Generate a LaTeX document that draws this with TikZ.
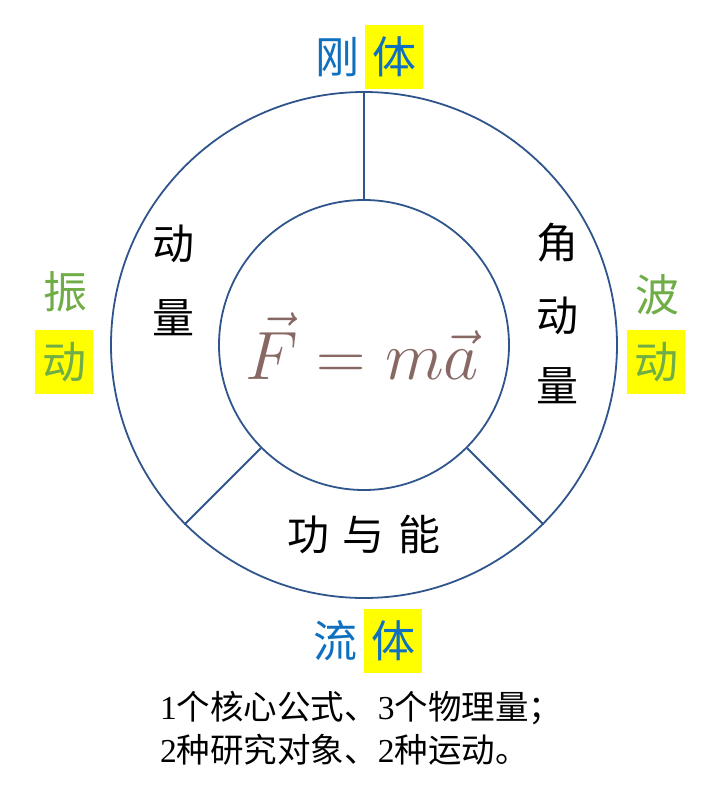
\documentclass[tikz,border=0pt]{standalone}
\usepackage{fontspec}
\newfontfamily\cjk{Noto Sans CJK SC}
\newfontfamily\lserif{Liberation Serif}
\definecolor{ringblue}{RGB}{47,85,140}
\definecolor{titleblue}{RGB}{16,112,192}
\definecolor{motiongreen}{RGB}{112,173,71}
\definecolor{hlyellow}{RGB}{255,255,0}
\definecolor{formula}{RGB}{135,104,100}
\tikzset{
  ring/.style={circle,draw=ringblue,line width=1.8pt,inner sep=0pt},
  divider/.style={draw=ringblue,line width=1.8pt},
  bigchar/.style={font=\cjk\fontsize{44}{44}\selectfont,inner sep=0pt},
  hlbox/.style={bigchar,fill=hlyellow,minimum width=58pt,minimum height=64pt},
  inchar/.style={font=\cjk\fontsize{42}{42}\selectfont,inner sep=0pt,text=black},
  note/.style={font=\cjk\fontsize{33.5}{42}\selectfont,inner sep=0pt,anchor=west,text=black}
}
\begin{document}
\begin{tikzpicture}[x=1pt,y=-1pt]
\useasboundingbox (0,0) rectangle (720,788);
% rings
\node[ring,minimum size=506pt] (outer) at (364,345) {};
\node[ring,minimum size=290pt] (inner) at (364,345) {};
\draw[divider] (inner.90) -- (outer.90);
\draw[divider] (inner.225) -- (outer.225);
\draw[divider] (inner.315) -- (outer.315);
% formula
\node[text=formula,inner sep=0pt,scale=2.75] (f) at (362,346) {\Huge$\vec{F}=m\vec{a}$};
% inner labels
\node[inchar] (dong1) at (173,244) {动};
\node[inchar] (liang1) at (173,318) {量};
\node[inchar] (jiao) at (557,243) {角};
\node[inchar] (dong2) at (557,316) {动};
\node[inchar] (liang2) at (557,386) {量};
\node[inchar] (gong) at (364,535) {功\hspace{14pt}与\hspace{14pt}能};
% top
\node[bigchar,text=titleblue] (gang) at (337,57) {刚};
\node[hlbox,text=titleblue] (ti1) at (394,57) {体};
% bottom
\node[bigchar,text=titleblue] (liu) at (335,641) {流};
\node[hlbox,text=titleblue] (ti2) at (393,641) {体};
% left
\node[bigchar,text=motiongreen] (zhen) at (65,292) {振};
\node[hlbox,text=motiongreen] (dong3) at (64,362) {动};
% right
\node[bigchar,text=motiongreen] (bo) at (657,295) {波};
\node[hlbox,text=motiongreen] (dong4) at (656,362) {动};
% notes
\node[note] (n1) at (160,708) {{\lserif 1}个核心公式、{\lserif 3}个物理量；};
\node[note] (n2) at (160,750) {{\lserif 2}种研究对象、{\lserif 2}种运动。};
\end{tikzpicture}
\end{document}
